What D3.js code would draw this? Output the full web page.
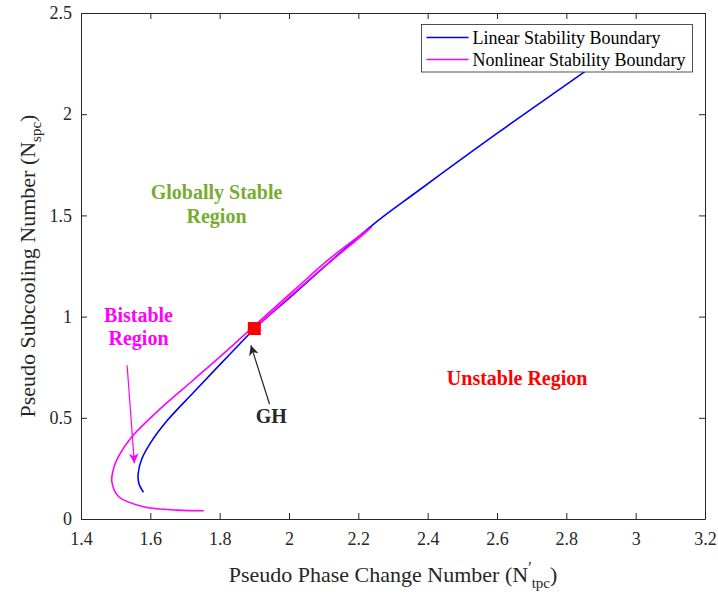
<!DOCTYPE html>
<html>
<head>
<meta charset="utf-8">
<script src="https://cdn.jsdelivr.net/npm/d3@7"></script>
<style>
  body { margin: 0; background: #fff; }
  text { font-family: "Liberation Serif", "Times New Roman", serif; }
</style>
</head>
<body>
<div id="chart"></div>
<script>
// values
const linearX = [1.580, 1.567, 1.565, 1.575, 1.600, 1.648, 1.725, 1.802, 1.879, 1.900, 2.013, 2.239, 2.374, 2.600, 2.849, 3.000];
const linearY = [0.132, 0.175, 0.225, 0.295, 0.375, 0.485, 0.626, 0.765, 0.903, 0.941, 1.110, 1.450, 1.623, 1.905, 2.205, 2.390];

const nonlinX = [1.754, 1.677, 1.580, 1.509, 1.489, 1.495, 1.512, 1.545, 1.629, 1.725, 1.821, 1.879, 2.013, 2.120, 2.239, 2.080, 1.990, 1.915];
const nonlinY = [0.041, 0.044, 0.061, 0.110, 0.184, 0.255, 0.320, 0.403, 0.545, 0.688, 0.832, 0.922, 1.128, 1.290, 1.442, 1.215, 1.080, 0.965];

const ghPoint = [1.9, 0.941];

const xTicks = [1.4, 1.6, 1.8, 2, 2.2, 2.4, 2.6, 2.8, 3, 3.2];
const yTicks = [0, 0.5, 1, 1.5, 2, 2.5];

const seriesNames = ["Linear Stability Boundary", "Nonlinear Stability Boundary"];
const seriesColors = ["#0000ff", "#ff00ff"];

// set the dimensions and margins of the graph
var margin = {top: 13, right: 13, bottom: 77, left: 81},
    width = 718 - margin.left - margin.right,
    height = 596 - margin.top - margin.bottom;

var svg = d3.select("#chart")
  .append("svg")
    .attr("width", 718)
    .attr("height", 596)
  .append("g")
    .attr("transform", "translate(" + margin.left + "," + margin.top + ")");

var x = d3.scaleLinear().domain([1.4, 3.2]).range([0, width]);
var y = d3.scaleLinear().domain([0, 2.5]).range([height, 0]);

var axisColor = "#262626";
var fmt = function(d) { return String(d); };

// axes, ticks inside on all four sides (box on)
var xb = svg.append("g").attr("transform", "translate(0," + height + ")")
  .call(d3.axisBottom(x).tickValues(xTicks).tickFormat(fmt).tickSizeInner(-6).tickSizeOuter(0).tickPadding(13));
var xt = svg.append("g")
  .call(d3.axisTop(x).tickValues(xTicks).tickFormat("").tickSizeInner(-6).tickSizeOuter(0));
var yl = svg.append("g")
  .call(d3.axisLeft(y).tickValues(yTicks).tickFormat(fmt).tickSizeInner(-6).tickSizeOuter(0).tickPadding(9));
var yr = svg.append("g").attr("transform", "translate(" + width + ",0)")
  .call(d3.axisRight(y).tickValues(yTicks).tickFormat("").tickSizeInner(-6).tickSizeOuter(0));

[xb, xt, yl, yr].forEach(function(g) {
  g.selectAll("path, line").attr("stroke", axisColor).attr("stroke-width", 1);
  g.selectAll("text").attr("fill", axisColor).attr("font-size", "18px")
    .style("font-family", "Liberation Serif");
});

// clip
svg.append("clipPath").attr("id", "clip")
  .append("rect").attr("width", width).attr("height", height);

var line = d3.line()
  .x(function(d) { return x(d[0]); })
  .y(function(d) { return y(d[1]); })
  .curve(d3.curveCatmullRom);

var linearData = linearX.map(function(v, i) { return [v, linearY[i]]; });
var nonlinData = nonlinX.map(function(v, i) { return [v, nonlinY[i]]; });

svg.append("path").datum(linearData)
  .attr("clip-path", "url(#clip)")
  .attr("fill", "none").attr("stroke", seriesColors[0]).attr("stroke-width", 1.6)
  .attr("d", line);

svg.append("path").datum(nonlinData)
  .attr("clip-path", "url(#clip)")
  .attr("fill", "none").attr("stroke", seriesColors[1]).attr("stroke-width", 1.6)
  .attr("d", line);

// GH marker
svg.append("rect")
  .attr("x", x(ghPoint[0]) - 6.5).attr("y", y(ghPoint[1]) - 6.5)
  .attr("width", 13).attr("height", 13)
  .attr("fill", "#ff0000");

// arrows
var defs = svg.append("defs");
function marker(id, color) {
  defs.append("marker").attr("id", id)
    .attr("viewBox", "0 0 10 10").attr("refX", 10).attr("refY", 5)
    .attr("markerWidth", 10).attr("markerHeight", 10)
    .attr("markerUnits", "userSpaceOnUse")
    .attr("orient", "auto")
    .append("path").attr("d", "M0,0 L10,5 L0,10 L3,5 Z").attr("fill", color);
}
marker("headBlack", "#262626");
marker("headMagenta", "#ff00ff");

svg.append("line")
  .attr("x1", x(1.944)).attr("y1", y(0.567))
  .attr("x2", x(1.890)).attr("y2", y(0.858))
  .attr("stroke", "#262626").attr("stroke-width", 1.2)
  .attr("marker-end", "url(#headBlack)");

svg.append("line")
  .attr("x1", x(1.533)).attr("y1", y(0.760))
  .attr("x2", x(1.554)).attr("y2", y(0.275))
  .attr("stroke", "#ff00ff").attr("stroke-width", 1.2)
  .attr("marker-end", "url(#headMagenta)");

// annotations
function label(lines, cx, ys, color) {
  lines.forEach(function(t, i) {
    svg.append("text")
      .attr("x", x(cx)).attr("y", y(ys[i]))
      .attr("text-anchor", "middle")
      .attr("font-size", "20px").attr("font-weight", "bold")
      .attr("fill", color)
      .text(t);
  });
}
label(["Globally Stable", "Region"], 1.791, [1.582, 1.462], "#77ac30");
label(["Bistable", "Region"], 1.566, [0.973, 0.862], "#ff00ff");
label(["Unstable Region"], 2.658, [0.661], "#ff0000");
label(["GH"], 1.949, [0.475], "#262626");

// legend
var lg = svg.append("g").attr("transform", "translate(" + (421.5 - margin.left) + "," + (24.5 - margin.top) + ")");
lg.append("rect").attr("width", 271).attr("height", 47.5)
  .attr("fill", "#fff").attr("stroke", axisColor).attr("stroke-width", 0.8);
seriesNames.forEach(function(n, i) {
  var ly = 13 + i * 22;
  lg.append("line").attr("x1", 5).attr("x2", 47).attr("y1", ly).attr("y2", ly)
    .attr("stroke", seriesColors[i]).attr("stroke-width", 1.6);
  lg.append("text").attr("x", 51).attr("y", ly + 6)
    .attr("font-size", "18px").attr("fill", "#000").text(n);
});

// axis titles
var xTitle = svg.append("text")
  .attr("x", width / 2).attr("y", height + 63)
  .attr("text-anchor", "middle").attr("font-size", "22px").attr("fill", axisColor);
xTitle.append("tspan").text("Pseudo Phase Change Number (N");
xTitle.append("tspan").attr("font-size", "16px").attr("dy", -9).text("\u2032");
xTitle.append("tspan").attr("font-size", "15px").attr("dy", 15).text("tpc");
xTitle.append("tspan").attr("dy", -6).text(")");

var yTitle = svg.append("text")
  .attr("transform", "translate(" + (-46) + "," + (height / 2) + ") rotate(-90)")
  .attr("text-anchor", "middle").attr("font-size", "22px").attr("fill", axisColor);
yTitle.append("tspan").text("Pseudo Subcooling Number (N");
yTitle.append("tspan").attr("font-size", "15px").attr("dy", 6).text("spc");
yTitle.append("tspan").attr("dy", -6).text(")");
</script>
</body>
</html>
